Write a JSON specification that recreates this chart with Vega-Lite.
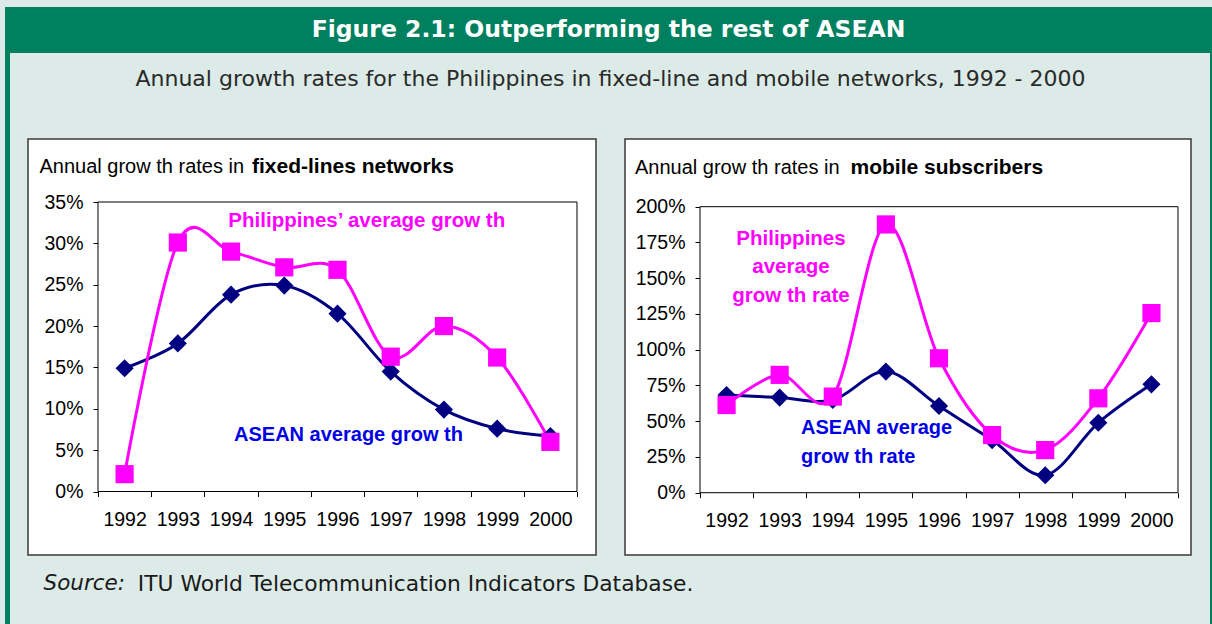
{
  "$schema": "https://vega.github.io/schema/vega-lite/v6.json",
  "background": "#DCEBE7",
  "padding": {"left": 5, "top": 7, "right": 0, "bottom": 0},
  "config": {"view": {"stroke": null}},
  "datasets": {
    "fixed": [
      {"series": "ASEAN", "year": "1992", "value": 0.149},
      {"series": "ASEAN", "year": "1993", "value": 0.179},
      {"series": "ASEAN", "year": "1994", "value": 0.238},
      {"series": "ASEAN", "year": "1995", "value": 0.249},
      {"series": "ASEAN", "year": "1996", "value": 0.215},
      {"series": "ASEAN", "year": "1997", "value": 0.145},
      {"series": "ASEAN", "year": "1998", "value": 0.099},
      {"series": "ASEAN", "year": "1999", "value": 0.076},
      {"series": "ASEAN", "year": "2000", "value": 0.067},
      {"series": "Philippines", "year": "1992", "value": 0.021},
      {"series": "Philippines", "year": "1993", "value": 0.301},
      {"series": "Philippines", "year": "1994", "value": 0.290},
      {"series": "Philippines", "year": "1995", "value": 0.271},
      {"series": "Philippines", "year": "1996", "value": 0.268},
      {"series": "Philippines", "year": "1997", "value": 0.163},
      {"series": "Philippines", "year": "1998", "value": 0.200},
      {"series": "Philippines", "year": "1999", "value": 0.162},
      {"series": "Philippines", "year": "2000", "value": 0.060}
    ],
    "mobile": [
      {"series": "ASEAN", "year": "1992", "value": 0.683},
      {"series": "ASEAN", "year": "1993", "value": 0.665},
      {"series": "ASEAN", "year": "1994", "value": 0.648},
      {"series": "ASEAN", "year": "1995", "value": 0.847},
      {"series": "ASEAN", "year": "1996", "value": 0.606},
      {"series": "ASEAN", "year": "1997", "value": 0.368},
      {"series": "ASEAN", "year": "1998", "value": 0.122},
      {"series": "ASEAN", "year": "1999", "value": 0.489},
      {"series": "ASEAN", "year": "2000", "value": 0.758},
      {"series": "Philippines", "year": "1992", "value": 0.613},
      {"series": "Philippines", "year": "1993", "value": 0.824},
      {"series": "Philippines", "year": "1994", "value": 0.672},
      {"series": "Philippines", "year": "1995", "value": 1.876},
      {"series": "Philippines", "year": "1996", "value": 0.940},
      {"series": "Philippines", "year": "1997", "value": 0.403},
      {"series": "Philippines", "year": "1998", "value": 0.298},
      {"series": "Philippines", "year": "1999", "value": 0.660},
      {"series": "Philippines", "year": "2000", "value": 1.256}
    ]
  },
  "spacing": 0,
  "vconcat": [
    {
      "width": 1207,
      "height": 46,
      "view": {"fill": "#00805F", "stroke": null},
      "data": {"values": [{}]},
      "mark": {"type": "text", "text": "Figure 2.1: Outperforming the rest of ASEAN", "font": "DejaVu Sans", "fontWeight": "bold", "fontSize": 23.5, "color": "white", "align": "center", "baseline": "middle"},
      "encoding": {
        "x": {"datum": 0.5, "type": "quantitative", "scale": {"domain": [0, 1]}, "axis": null},
        "y": {"datum": 0.5, "type": "quantitative", "scale": {"domain": [0, 1]}, "axis": null}
      }
    },
    {
      "spacing": 17,
      "hconcat": [
        {
          "width": 5,
          "height": 571,
          "view": {"fill": "#00805F", "stroke": null},
          "data": {"values": []},
          "mark": "point"
        },
        {
          "spacing": 0,
          "vconcat": [
            {
              "width": 1165,
              "height": 85,
              "data": {"values": [{}]},
              "mark": {"type": "text", "text": "Annual growth rates for the Philippines in fixed-line and mobile networks, 1992 - 2000", "font": "DejaVu Sans", "fontSize": 22, "color": "#2a2a2a", "align": "center", "baseline": "middle"},
              "encoding": {
                "x": {"datum": 0.5, "type": "quantitative", "scale": {"domain": [0, 1]}, "axis": null},
                "y": {"datum": 0.7, "type": "quantitative", "scale": {"domain": [0, 1]}, "axis": null}
              }
            },
            {
              "spacing": 27,
              "hconcat": [
                {
                  "width": 568,
                  "height": 416,
                  "view": {"fill": "white", "stroke": "#3a3a3a", "strokeWidth": 1.5},
                  "data": {"name": "fixed"},
                  "encoding": {
                    "x": {
                      "field": "year", "type": "ordinal", "title": null,
                      "scale": {"type": "band", "domain": ["1992","1993","1994","1995","1996","1997","1998","1999","2000"], "paddingInner": 0, "paddingOuter": 0.8361, "align": 0.7865},
                      "axis": {"domain": false, "tickBand": "extent", "tickSize": 5, "tickColor": "black", "tickWidth": 1, "labelAngle": 0, "labelFont": "Liberation Sans", "labelFontSize": 19.5, "labelColor": "black", "labelPadding": 14, "offset": -63.5, "grid": false}
                    },
                    "y": {
                      "field": "value", "type": "quantitative", "title": null,
                      "scale": {"domain": [-0.07677, 0.42617], "nice": false, "zero": false},
                      "axis": {"domain": false, "values": [0, 0.05, 0.1, 0.15, 0.2, 0.25, 0.3, 0.35], "format": ".0%", "tickSize": 5, "tickColor": "black", "tickWidth": 1, "labelFont": "Liberation Sans", "labelFontSize": 19.5, "labelColor": "black", "labelPadding": 10, "offset": -70, "grid": false}
                    }
                  },
                  "layer": [
                    {
                      "transform": [{"filter": "datum.series == 'ASEAN' && datum.year == '1992'"}],
                      "mark": {"type": "rect", "fill": "white", "stroke": "black", "strokeWidth": 1},
                      "encoding": {
                        "x": {"datum": "1992", "type": "ordinal", "bandPosition": 0},
                        "x2": {"datum": "2000", "bandPosition": 1},
                        "y": {"datum": 0, "type": "quantitative"},
                        "y2": {"datum": 0.35}
                      }
                    },
                    {
                      "mark": {"type": "line", "interpolate": "cardinal", "strokeWidth": 3},
                      "encoding": {
                        "color": {"field": "series", "type": "nominal", "scale": {"domain": ["ASEAN", "Philippines"], "range": ["#000080", "#FF00FF"]}, "legend": null}
                      }
                    },
                    {
                      "mark": {"type": "point", "filled": true, "size": 330, "opacity": 1},
                      "encoding": {
                        "color": {"field": "series", "type": "nominal", "scale": {"domain": ["ASEAN", "Philippines"], "range": ["#000080", "#FF00FF"]}, "legend": null},
                        "shape": {"field": "series", "type": "nominal", "scale": {"domain": ["ASEAN", "Philippines"], "range": ["diamond", "square"]}, "legend": null}
                      }
                    },
                    {
                      "transform": [{"filter": "datum.series == 'ASEAN' && datum.year == '1992'"}],
                      "mark": {"type": "text", "text": "Annual grow th rates in", "font": "Liberation Sans", "fontSize": 20, "color": "black", "align": "left", "baseline": "middle"},
                      "encoding": {
                        "x": {"datum": "1992", "type": "ordinal", "bandPosition": -1.099},
                        "y": {"datum": 0.3925, "type": "quantitative"}
                      }
                    },
                    {
                      "transform": [{"filter": "datum.series == 'ASEAN' && datum.year == '1992'"}],
                      "mark": {"type": "text", "text": "fixed-lines networks", "font": "Liberation Sans", "fontSize": 21, "fontWeight": "bold", "color": "black", "align": "left", "baseline": "middle"},
                      "encoding": {
                        "x": {"datum": "1994", "type": "ordinal", "bandPosition": 0.894},
                        "y": {"datum": 0.3925, "type": "quantitative"}
                      }
                    },
                    {
                      "transform": [{"filter": "datum.series == 'ASEAN' && datum.year == '1992'"}],
                      "mark": {"type": "text", "text": "Philippines’ average grow th", "font": "Liberation Sans", "fontSize": 20.5, "fontWeight": "bold", "color": "#FF00FF", "align": "center", "baseline": "middle"},
                      "encoding": {
                        "x": {"datum": "1997", "type": "ordinal", "bandPosition": 0.05},
                        "y": {"datum": 0.327, "type": "quantitative"}
                      }
                    },
                    {
                      "transform": [{"filter": "datum.series == 'ASEAN' && datum.year == '1992'"}],
                      "mark": {"type": "text", "text": "ASEAN average grow th", "font": "Liberation Sans", "fontSize": 20, "fontWeight": "bold", "color": "#0000E6", "align": "center", "baseline": "middle"},
                      "encoding": {
                        "x": {"datum": "1996", "type": "ordinal", "bandPosition": 0.707},
                        "y": {"datum": 0.0684, "type": "quantitative"}
                      }
                    }
                  ]
                },
                {
                  "width": 566,
                  "height": 416,
                  "view": {"fill": "white", "stroke": "#3a3a3a", "strokeWidth": 1.5},
                  "data": {"name": "mobile"},
                  "encoding": {
                    "x": {
                      "field": "year", "type": "ordinal", "title": null,
                      "scale": {"type": "band", "domain": ["1992","1993","1994","1995","1996","1997","1998","1999","2000"], "paddingInner": 0, "paddingOuter": 0.82845, "align": 0.85227},
                      "axis": {"domain": false, "tickBand": "extent", "tickSize": 5, "tickColor": "black", "tickWidth": 1, "labelAngle": 0, "labelFont": "Liberation Sans", "labelFontSize": 19.5, "labelColor": "black", "labelPadding": 14, "offset": -62.3, "grid": false}
                    },
                    "y": {
                      "field": "value", "type": "quantitative", "title": null,
                      "scale": {"domain": [-0.4357, 2.4734], "nice": false, "zero": false},
                      "axis": {"domain": false, "values": [0, 0.25, 0.5, 0.75, 1, 1.25, 1.5, 1.75, 2], "format": ".0%", "tickSize": 5, "tickColor": "black", "tickWidth": 1, "labelFont": "Liberation Sans", "labelFontSize": 19.5, "labelColor": "black", "labelPadding": 10, "offset": -75, "grid": false}
                    }
                  },
                  "layer": [
                    {
                      "transform": [{"filter": "datum.series == 'ASEAN' && datum.year == '1992'"}],
                      "mark": {"type": "rect", "fill": "white", "stroke": "black", "strokeWidth": 1},
                      "encoding": {
                        "x": {"datum": "1992", "type": "ordinal", "bandPosition": 0},
                        "x2": {"datum": "2000", "bandPosition": 1},
                        "y": {"datum": 0, "type": "quantitative"},
                        "y2": {"datum": 2}
                      }
                    },
                    {
                      "mark": {"type": "line", "interpolate": "cardinal", "strokeWidth": 3},
                      "encoding": {
                        "color": {"field": "series", "type": "nominal", "scale": {"domain": ["ASEAN", "Philippines"], "range": ["#000080", "#FF00FF"]}, "legend": null}
                      }
                    },
                    {
                      "mark": {"type": "point", "filled": true, "size": 330, "opacity": 1},
                      "encoding": {
                        "color": {"field": "series", "type": "nominal", "scale": {"domain": ["ASEAN", "Philippines"], "range": ["#000080", "#FF00FF"]}, "legend": null},
                        "shape": {"field": "series", "type": "nominal", "scale": {"domain": ["ASEAN", "Philippines"], "range": ["diamond", "square"]}, "legend": null}
                      }
                    },
                    {
                      "transform": [{"filter": "datum.series == 'ASEAN' && datum.year == '1992'"}],
                      "mark": {"type": "text", "text": "Annual grow th rates in", "font": "Liberation Sans", "fontSize": 20, "color": "black", "align": "left", "baseline": "middle"},
                      "encoding": {
                        "x": {"datum": "1992", "type": "ordinal", "bandPosition": -1.224},
                        "y": {"datum": 2.274, "type": "quantitative"}
                      }
                    },
                    {
                      "transform": [{"filter": "datum.series == 'ASEAN' && datum.year == '1992'"}],
                      "mark": {"type": "text", "text": "mobile subscribers", "font": "Liberation Sans", "fontSize": 21, "fontWeight": "bold", "color": "black", "align": "left", "baseline": "middle"},
                      "encoding": {
                        "x": {"datum": "1994", "type": "ordinal", "bandPosition": 0.834},
                        "y": {"datum": 2.274, "type": "quantitative"}
                      }
                    },
                    {
                      "transform": [{"filter": "datum.series == 'ASEAN' && datum.year == '1992'"}],
                      "mark": {"type": "text", "text": "Philippines\naverage\ngrow th rate", "lineBreak": "\n", "lineHeight": 28.5, "font": "Liberation Sans", "fontSize": 20.5, "fontWeight": "bold", "color": "#FF00FF", "align": "center", "baseline": "middle"},
                      "encoding": {
                        "x": {"datum": "1993", "type": "ordinal", "bandPosition": 0.713},
                        "y": {"datum": 1.775, "type": "quantitative"}
                      }
                    },
                    {
                      "transform": [{"filter": "datum.series == 'ASEAN' && datum.year == '1992'"}],
                      "mark": {"type": "text", "text": "ASEAN average\ngrow th rate", "lineBreak": "\n", "lineHeight": 28.5, "font": "Liberation Sans", "fontSize": 20, "fontWeight": "bold", "color": "#0000E6", "align": "left", "baseline": "middle"},
                      "encoding": {
                        "x": {"datum": "1993", "type": "ordinal", "bandPosition": 0.902},
                        "y": {"datum": 0.449, "type": "quantitative"}
                      }
                    }
                  ]
                }
              ]
            },
            {
              "width": 1165,
              "height": 70,
              "data": {"values": [{}]},
              "encoding": {
                "y": {"datum": 0.6, "type": "quantitative", "scale": {"domain": [0, 1]}, "axis": null}
              },
              "layer": [
                {
                  "mark": {"type": "text", "text": "Source:", "font": "DejaVu Sans", "fontStyle": "italic", "fontSize": 21.5, "color": "#1a1a1a", "align": "left", "baseline": "middle"},
                  "encoding": {"x": {"datum": 0.0133, "type": "quantitative", "scale": {"domain": [0, 1]}, "axis": null}}
                },
                {
                  "mark": {"type": "text", "text": "ITU World Telecommunication Indicators Database.", "font": "DejaVu Sans", "fontSize": 21.8, "color": "#1a1a1a", "align": "left", "baseline": "middle"},
                  "encoding": {"x": {"datum": 0.0943, "type": "quantitative", "scale": {"domain": [0, 1]}, "axis": null}}
                }
              ]
            }
          ]
        },
        {
          "width": 3,
          "height": 571,
          "view": {"fill": "#00805F", "stroke": null},
          "data": {"values": []},
          "mark": "point"
        }
      ]
    }
  ]
}
